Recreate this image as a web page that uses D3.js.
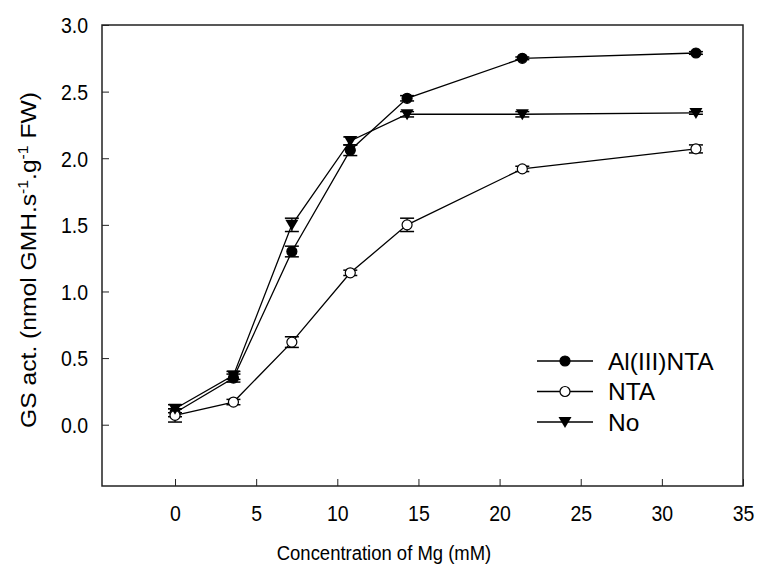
<!DOCTYPE html>
<html>
<head>
<meta charset="utf-8" />
<title>GS activity vs Mg</title>
<script src="https://d3js.org/d3.v7.min.js"></script>
<style>
    body { margin: 0; background: #fff; }
    svg text { font-family: "Liberation Sans", Arial, sans-serif; fill: #000; }
</style>
</head>
<body>
<svg id="chart"></svg>
<script>
// values
var mg = [0, 3.6, 7.2, 10.8, 14.3, 21.4, 32.1]
var alNta = [0.09, 0.35, 1.30, 2.06, 2.45, 2.75, 2.79]
var alNtaErr = [0.03, 0.03, 0.04, 0.04, 0.02, 0.01, 0.01]
var nta = [0.07, 0.17, 0.62, 1.14, 1.50, 1.92, 2.07]
var ntaErr = [0.05, 0.02, 0.04, 0.02, 0.05, 0.02, 0.03]
var noTreat = [0.12, 0.37, 1.50, 2.13, 2.33, 2.33, 2.34]
var noTreatErr = [0.03, 0.03, 0.05, 0.03, 0.02, 0.02, 0.01]
var seriesNames = ['Al(III)NTA', 'NTA', 'No']
var xTicks = [0, 5, 10, 15, 20, 25, 30, 35]
var yTicks = [0, 0.5, 1, 1.5, 2, 2.5, 3]

var W = 758, H = 568
var plotL = 102, plotR = 743, plotT = 25, plotB = 486
var k = 1.12 // the source text looks a bit tall for its width

var svg = d3.select('#chart').attr('width', W).attr('height', H)

var x = d3.scaleLinear().domain([-4.5, 35]).range([plotL, plotR])
var y = d3.scaleLinear().domain([-0.46, 3]).range([plotB, plotT])

var series = [
    { name: seriesNames[0], vals: alNta, err: alNtaErr, marker: 'filled' },
    { name: seriesNames[1], vals: nta, err: ntaErr, marker: 'open' },
    { name: seriesNames[2], vals: noTreat, err: noTreatErr, marker: 'tri' }
]

// axes (ticks point inward)
var gx = svg.append('g')
    .attr('transform', `translate(0,${plotB})`)
    .call(d3.axisBottom(x).tickValues(xTicks).tickSize(-7).tickPadding(20).tickFormat(d3.format('d')))
var gy = svg.append('g')
    .attr('transform', `translate(${plotL},0)`)
    .call(d3.axisLeft(y).tickValues(yTicks).tickSize(-7).tickPadding(14).tickFormat(d3.format('.1f')))

svg.selectAll('.domain').remove()
svg.selectAll('.tick line').attr('stroke', '#222').attr('stroke-width', 1)
svg.selectAll('.tick text').style('font-size', '19.5px')

gx.selectAll('.tick text').each(function () {
    var t = d3.select(this)
    var ty = +t.attr('y')
    t.attr('y', 0).attr('dy', null)
        .attr('transform', `translate(0,${ty - 1}) scale(1,${k}) translate(0,14)`)
})
gy.selectAll('.tick text').each(function () {
    var t = d3.select(this)
    var tx = +t.attr('x')
    t.attr('x', 0).attr('dy', null)
        .attr('transform', `translate(${tx},0) scale(1,${k}) translate(0,7)`)
})

// frame
svg.append('rect')
    .attr('x', plotL).attr('y', plotT)
    .attr('width', plotR - plotL).attr('height', plotB - plotT)
    .attr('fill', 'none').attr('stroke', '#222').attr('stroke-width', 1.5)

var line = d3.line().x(function (d, i) { return x(mg[i]) }).y(function (d) { return y(d) })

function drawMarker(g, kind, cx, cy) {
    if (kind == 'tri') {
        g.append('path')
            .attr('d', `M${cx - 6.5},${cy - 5} L${cx + 6.5},${cy - 5} L${cx},${cy + 6} Z`)
            .attr('fill', '#000')
    } else {
        g.append('circle')
            .attr('cx', cx).attr('cy', cy).attr('r', 5)
            .attr('fill', kind == 'filled' ? '#000' : '#fff')
            .attr('stroke', '#000').attr('stroke-width', 1.2)
    }
}

series.forEach(function (s) {
    svg.append('path')
        .attr('d', line(s.vals))
        .attr('fill', 'none').attr('stroke', '#000').attr('stroke-width', 1.3)
})

series.forEach(function (s) {
    var g = svg.append('g')
    s.vals.forEach(function (v, i) {
        var cx = x(mg[i])
        var y0 = y(v - s.err[i]), y1 = y(v + s.err[i])
        g.append('line').attr('x1', cx).attr('x2', cx).attr('y1', y0).attr('y2', y1)
            .attr('stroke', '#000').attr('stroke-width', 1.2)
        ;[y0, y1].forEach(function (yy) {
            g.append('line').attr('x1', cx - 7).attr('x2', cx + 7).attr('y1', yy).attr('y2', yy)
                .attr('stroke', '#000').attr('stroke-width', 1.5)
        })
    })
})

series.forEach(function (s) {
    var g = svg.append('g')
    s.vals.forEach(function (v, i) {
        drawMarker(g, s.marker, x(mg[i]), y(v))
    })
})

// legend
var legend = svg.append('g')
series.forEach(function (s, i) {
    var ly = 361 + i * 30.5
    legend.append('line').attr('x1', 537).attr('x2', 593).attr('y1', ly).attr('y2', ly)
        .attr('stroke', '#000').attr('stroke-width', 1.3)
    drawMarker(legend, s.marker, 565, ly)
    legend.append('text').attr('x', 608).attr('y', ly).attr('dy', '0.36em')
        .style('font-size', '24.5px').text(s.name)
})

// axis titles
svg.append('text')
    .attr('transform', 'translate(384,560) scale(0.88,1)')
    .attr('text-anchor', 'middle')
    .style('font-size', '21px')
    .text('Concentration of Mg (mM)')

var yt = svg.append('text')
    .attr('transform', `translate(36,260) rotate(-90) scale(${k},1)`)
    .attr('text-anchor', 'middle')
    .style('font-size', '22px')
yt.append('tspan').text('GS act. (nmol GMH.s')
yt.append('tspan').attr('dy', -8).style('font-size', '14px').text('-1')
yt.append('tspan').attr('dy', 8).text('.g')
yt.append('tspan').attr('dy', -8).style('font-size', '14px').text('-1')
yt.append('tspan').attr('dy', 8).text(' FW)')
</script>
</body>
</html>
